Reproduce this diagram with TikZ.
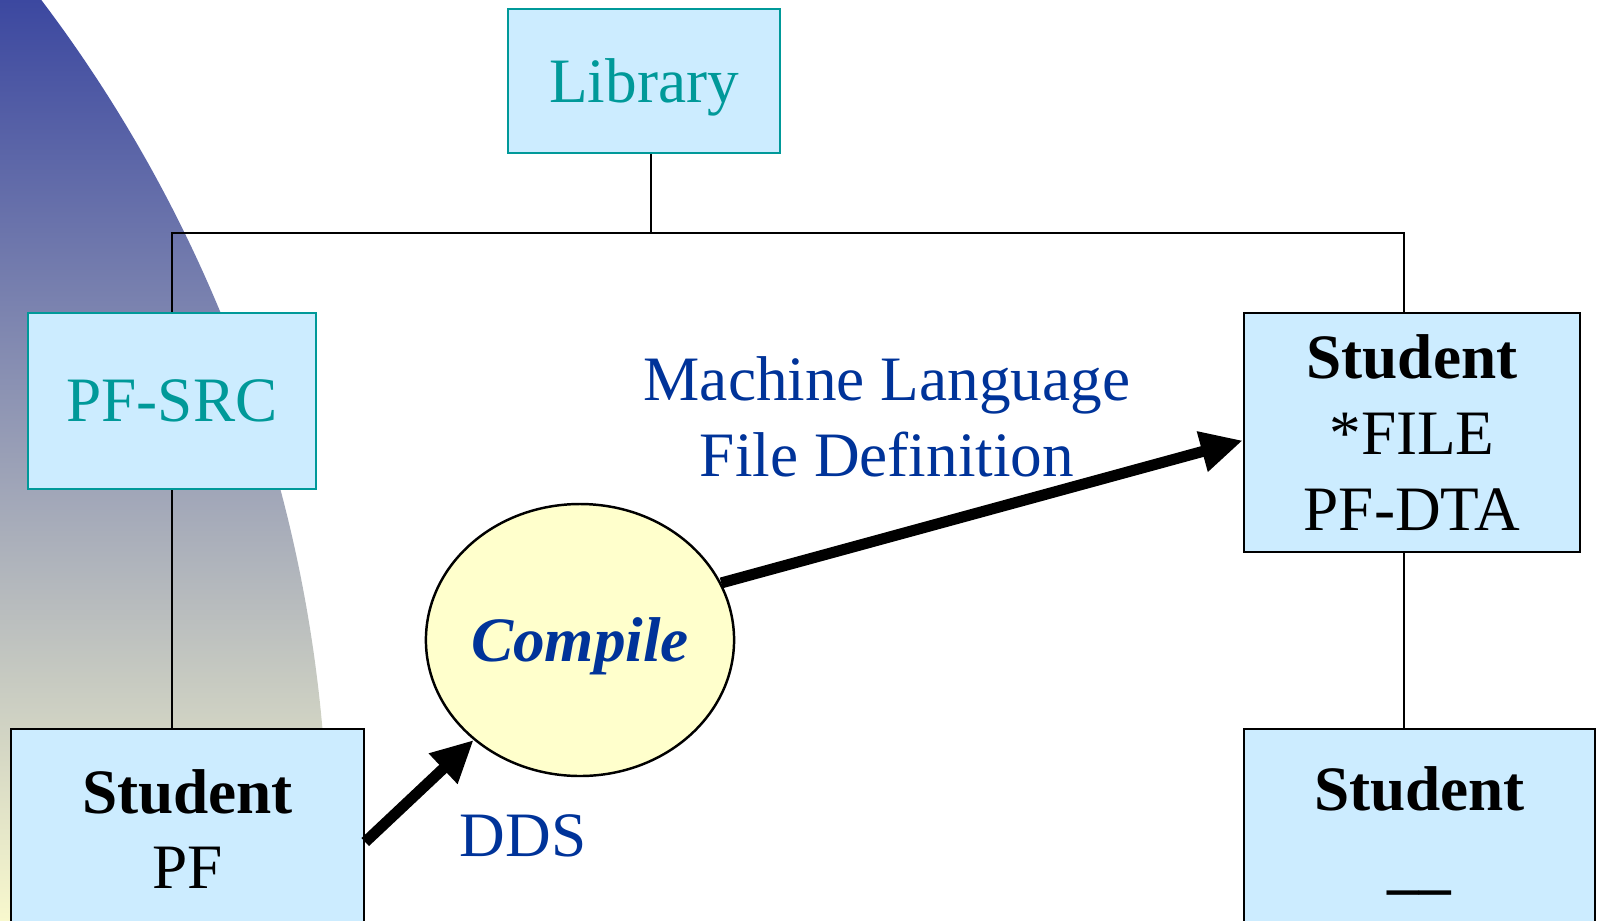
\documentclass[tikz,border=0pt]{standalone}
\usepackage{fontspec}
\setmainfont{Liberation Serif}
\usetikzlibrary{arrows.meta,shapes.geometric}
\definecolor{boxblue}{RGB}{204,236,255}
\definecolor{tealtext}{RGB}{0,153,153}
\definecolor{inkblue}{RGB}{0,51,153}
\definecolor{paleyellow}{RGB}{255,255,204}
\definecolor{arcblue}{RGB}{60,72,160}
\definecolor{arcgrey}{RGB}{178,178,170}
\definecolor{arccream}{RGB}{248,248,205}

\begin{document}
\begin{tikzpicture}[
  every node/.style={font=\fontsize{18}{21.6}\selectfont},
  libbox/.style={draw=tealtext, fill=boxblue, line width=0.7pt, text=tealtext, inner sep=0pt, text depth=0pt},
  stubox/.style={draw=black, fill=boxblue, line width=0.7pt, align=center, inner sep=0pt},
  link/.style={draw=black, line width=0.7pt},
  bigarrow/.style={-{Triangle[length=4.2mm, width=3.9mm]}, line width=1.1mm, draw=black}
]
\useasboundingbox (0,0) rectangle (16.01,-9.2);
\clip (0,0) rectangle (16.01,-9.2);
% shaded arc behind the left side
\begin{scope}
  \clip (-10.90,-8.55) circle (14.18);
  \shade[top color=arcblue, middle color=arcgrey, bottom color=arccream] (0,0) rectangle (4,-9.2);
\end{scope}
\coordinate (bus) at (6.51,-2.33);
\coordinate (rtap) at (14.04,-2.33);
\node[libbox, minimum width=2.72cm, minimum height=1.44cm] (library) at (6.44,-0.81) {Library};
\node[libbox, minimum width=2.88cm, minimum height=1.76cm] (pfsrc) at (1.72,-4.01) {PF-SRC};
\node[stubox, minimum width=3.36cm, minimum height=2.39cm] (studentfile) at (14.12,-4.325)
  {\textbf{Student}\\*FILE\\PF-DTA};
\node[stubox, minimum width=3.53cm, minimum height=2cm] (studentpf) at (1.875,-8.29)
  {\textbf{Student}\\PF};
\node[stubox, minimum width=3.51cm, minimum height=2.04cm] (studentlast) at (14.195,-8.31)
  {\textbf{Student}\\\textbf{\_\_}};
\node[ellipse, draw=black, fill=paleyellow, line width=0.7pt, inner sep=0pt, text depth=0pt,
  minimum width=3.04cm, minimum height=2.72cm, text=inkblue] (compile) at (5.80,-6.40)
  {\textbf{\textit{Compile}}};
\node[text=inkblue, align=center, inner sep=0pt] (mlfd) at (8.87,-4.17)
  {Machine Language\\File Definition};
\node[text=inkblue, inner sep=0pt] (dds) at (5.23,-8.355) {DDS};
\draw[link] (bus |- library.south) -- (bus);
\draw[link] (pfsrc.north) |- (rtap) -- (rtap |- studentfile.north);
\draw[link] (pfsrc.south) -- (pfsrc.south |- studentpf.north);
\draw[link] (rtap |- studentfile.south) -- (rtap |- studentlast.north);
\draw[bigarrow] ([yshift=-0.13cm]studentpf.east) -- (compile);
\draw[bigarrow] (compile.22) -- ([yshift=-0.08cm]studentfile.west);
\end{tikzpicture}
\end{document}
